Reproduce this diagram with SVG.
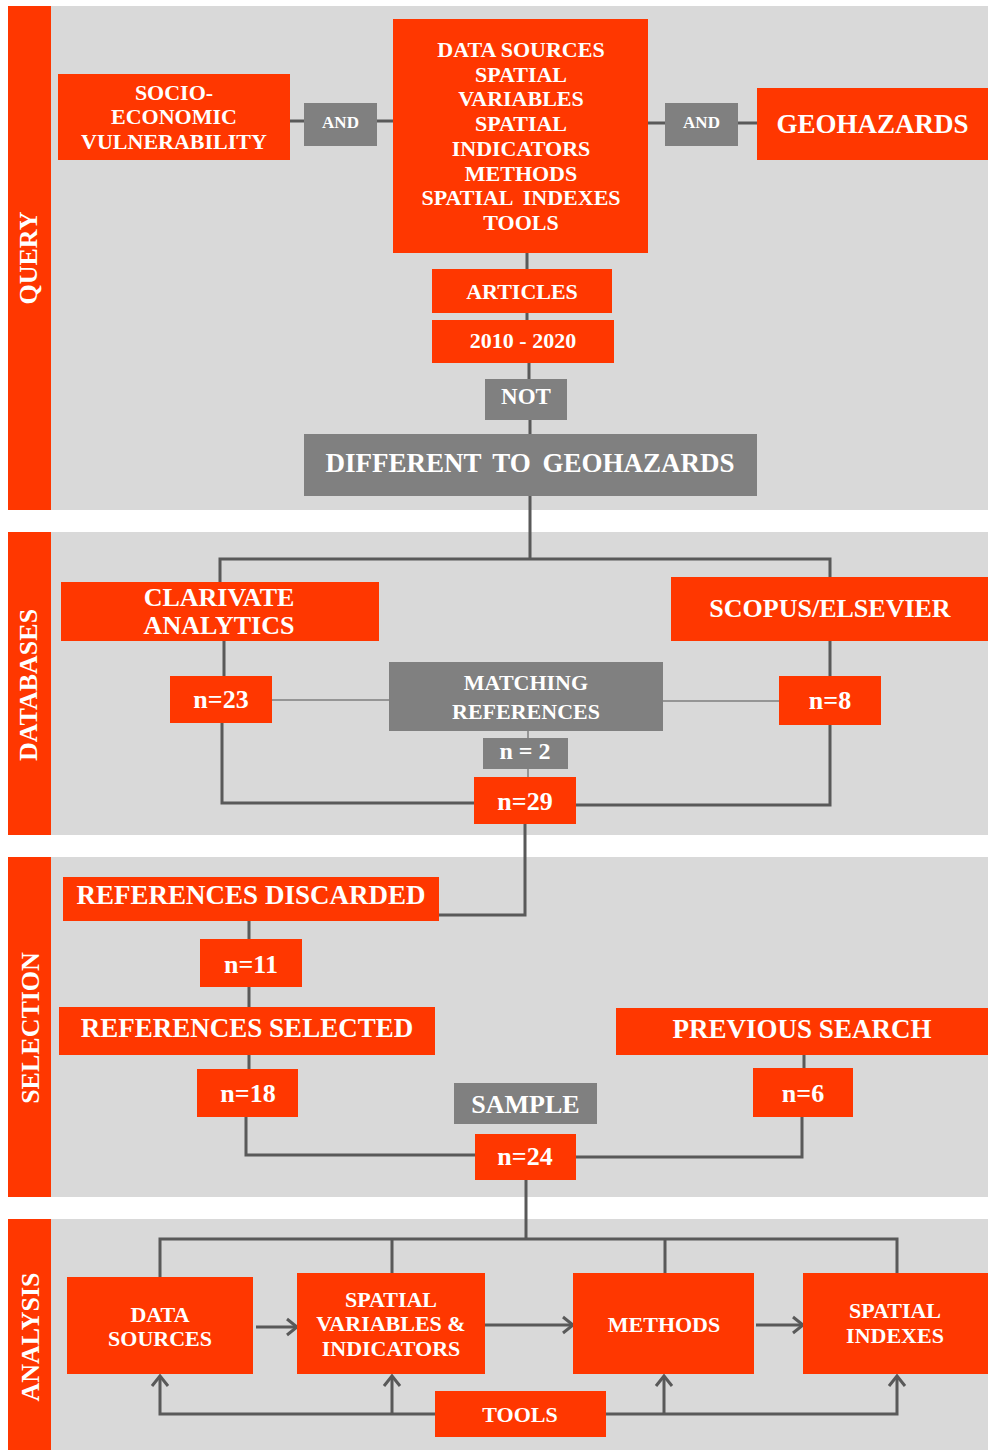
<svg xmlns="http://www.w3.org/2000/svg" width="988" height="1450" viewBox="0 0 988 1450" font-family="Liberation Serif, Times New Roman, Times, DejaVu Serif, serif">
<defs>
<style>
.panel{fill:#D9D9D9}
.o{fill:#FF3700}
.g{fill:#808080}
.tx{font-family:'Liberation Serif','Times New Roman',Times,'DejaVu Serif',serif;font-weight:700;fill:#FFFFFF;text-anchor:middle}
.s17{font-size:17px}
.s22{font-size:22px}
.s23{font-size:23px}
.s24{font-size:24px}
.s26{font-size:26px}
.s27{font-size:27px}
.c{fill:none;stroke:#595959;stroke-width:3}
.thin{fill:none;stroke:#7F7F7F;stroke-width:1.5}
.a{marker-end:url(#arr)}
</style>
<marker id="arr" markerWidth="18" markerHeight="20" refX="13" refY="9" orient="auto" markerUnits="userSpaceOnUse" overflow="visible">
<path d="M3,1 L13,9 L3,17" fill="none" stroke="#595959" stroke-width="3"/>
</marker>
</defs>

<g id="panels">
<rect class="panel" x="8" y="6" width="980" height="504"/>
<rect class="panel" x="8" y="532" width="980" height="303"/>
<rect class="panel" x="8" y="857" width="980" height="340"/>
<rect class="panel" x="8" y="1219" width="980" height="231"/>
</g>

<g id="side-query"><rect class="o" x="8" y="6" width="43" height="504"/><text class="tx s26" transform="translate(37,258) rotate(-90)">QUERY</text></g>
<g id="side-databases"><rect class="o" x="8" y="532" width="43" height="303"/><text class="tx s26" transform="translate(37,685) rotate(-90)">DATABASES</text></g>
<g id="side-selection"><rect class="o" x="8" y="857" width="43" height="340"/><text class="tx s26" transform="translate(39,1028) rotate(-90)">SELECTION</text></g>
<g id="side-analysis"><rect class="o" x="8" y="1219" width="43" height="231"/><text class="tx s26" transform="translate(39,1337) rotate(-90)">ANALYSIS</text></g>

<g id="connectors">
<path class="c" d="M290,121 H304 M377,121 H393 M648,123 H665 M738,123 H757"/>
<path class="c" d="M527,253 V269 M527,313 V320 M529,363 V379 M530,420 V434"/>
<path class="c" d="M530,496 V559 M220,582 V559 H830 V577"/>
<path class="c" d="M224,641 V676 M222,723 V803 H474 M576,805 H830 V725 M830,641 V676"/>
<path class="thin" d="M272,700 H389 M663,701 H779 M528,731 V738 M528,769 V777"/>
<path class="c" d="M525,824 V915 H439"/>
<path class="c" d="M249,921 V939 M249,987 V1007 M249,1055 V1069"/>
<path class="c" d="M246,1117 V1155 H475 M576,1157 H802 V1117 M804,1055 V1068"/>
<path class="c" d="M526,1180 V1239"/>
<path class="c" d="M160,1277 V1239 H897 V1273 M392,1239 V1273 M665,1239 V1273"/>
<path class="c a" d="M256,1327 H297"/>
<path class="c a" d="M485,1325 H573"/>
<path class="c a" d="M756,1325 H803"/>
<path class="c a" d="M435,1414 H160 V1376"/>
<path class="c a" d="M392,1414 V1376"/>
<path class="c a" d="M606,1414 H897 V1376"/>
<path class="c a" d="M664,1414 V1376"/>
</g>

<g id="socio"><rect class="o" x="58" y="74" width="232" height="86"/>
<text class="tx s22" x="174" y="100">SOCIO-</text><text class="tx s22" x="174" y="124">ECONOMIC</text><text class="tx s22" x="174" y="149">VULNERABILITY</text></g>
<g id="and1"><rect class="g" x="304" y="103" width="73" height="43"/><text class="tx s17" x="340.5" y="128">AND</text></g>
<g id="query-terms"><rect class="o" x="393" y="19" width="255" height="234"/>
<text class="tx s22" x="521" y="57">DATA SOURCES</text>
<text class="tx s22" x="521" y="81.7">SPATIAL</text>
<text class="tx s22" x="521" y="106.4">VARIABLES</text>
<text class="tx s22" x="521" y="131">SPATIAL</text>
<text class="tx s22" x="521" y="155.8">INDICATORS</text>
<text class="tx s22" x="521" y="180.5">METHODS</text>
<text class="tx s22" x="521" y="205.2" style="word-spacing:5px">SPATIAL INDEXES</text>
<text class="tx s22" x="521" y="230">TOOLS</text></g>
<g id="and2"><rect class="g" x="665" y="103" width="73" height="43"/><text class="tx s17" x="701.5" y="128">AND</text></g>
<g id="geohazards"><rect class="o" x="757" y="88" width="231" height="72"/><text class="tx s27" x="872.5" y="133">GEOHAZARDS</text></g>
<g id="articles"><rect class="o" x="432" y="269" width="180" height="44"/><text class="tx s22" x="522" y="299">ARTICLES</text></g>
<g id="years"><rect class="o" x="432" y="320" width="182" height="43"/><text class="tx s22" x="523" y="348">2010 - 2020</text></g>
<g id="not"><rect class="g" x="485" y="379" width="82" height="41"/><text class="tx s23" x="526" y="404">NOT</text></g>
<g id="different"><rect class="g" x="304" y="434" width="453" height="62"/><text class="tx s27" x="530" y="472" style="word-spacing:5px">DIFFERENT TO GEOHAZARDS</text></g>

<g id="clarivate"><rect class="o" x="61" y="582" width="318" height="59"/><text class="tx s26" x="219" y="606">CLARIVATE</text><text class="tx s26" x="219" y="634">ANALYTICS</text></g>
<g id="scopus"><rect class="o" x="671" y="577" width="317" height="64"/><text class="tx s26" x="830" y="617">SCOPUS/ELSEVIER</text></g>
<g id="n23"><rect class="o" x="170" y="676" width="102" height="47"/><text class="tx s26" x="221" y="708">n=23</text></g>
<g id="matching"><rect class="g" x="389" y="662" width="274" height="69"/><text class="tx s22" x="526" y="690">MATCHING</text><text class="tx s22" x="526" y="719">REFERENCES</text></g>
<g id="n8"><rect class="o" x="779" y="676" width="102" height="49"/><text class="tx s26" x="830" y="709">n=8</text></g>
<g id="n2"><rect class="g" x="483" y="738" width="85" height="31"/><text class="tx s24" x="525" y="759">n = 2</text></g>
<g id="n29"><rect class="o" x="474" y="777" width="102" height="47"/><text class="tx s26" x="525" y="810">n=29</text></g>

<g id="discarded"><rect class="o" x="63" y="877" width="376" height="44"/><text class="tx s27" x="251" y="904">REFERENCES DISCARDED</text></g>
<g id="n11"><rect class="o" x="200" y="939" width="102" height="48"/><text class="tx s26" x="251" y="973">n=11</text></g>
<g id="selected"><rect class="o" x="59" y="1007" width="376" height="48"/><text class="tx s27" x="247" y="1037">REFERENCES SELECTED</text></g>
<g id="n18"><rect class="o" x="197" y="1069" width="101" height="48"/><text class="tx s26" x="248" y="1102">n=18</text></g>
<g id="previous"><rect class="o" x="616" y="1008" width="372" height="47"/><text class="tx s27" x="802" y="1038">PREVIOUS SEARCH</text></g>
<g id="n6"><rect class="o" x="753" y="1068" width="100" height="49"/><text class="tx s26" x="803" y="1102">n=6</text></g>
<g id="sample"><rect class="g" x="454" y="1083" width="143" height="41"/><text class="tx s26" x="525.5" y="1113">SAMPLE</text></g>
<g id="n24"><rect class="o" x="475" y="1134" width="101" height="46"/><text class="tx s26" x="525" y="1165">n=24</text></g>

<g id="a-data"><rect class="o" x="67" y="1277" width="186" height="97"/><text class="tx s22" x="160" y="1322">DATA</text><text class="tx s22" x="160" y="1346">SOURCES</text></g>
<g id="a-variables"><rect class="o" x="297" y="1273" width="188" height="101"/><text class="tx s22" x="391" y="1307">SPATIAL</text><text class="tx s22" x="391" y="1331">VARIABLES &amp;</text><text class="tx s22" x="391" y="1356">INDICATORS</text></g>
<g id="a-methods"><rect class="o" x="573" y="1273" width="181" height="101"/><text class="tx s22" x="664" y="1332">METHODS</text></g>
<g id="a-indexes"><rect class="o" x="803" y="1273" width="185" height="101"/><text class="tx s22" x="895" y="1318">SPATIAL</text><text class="tx s22" x="895" y="1343">INDEXES</text></g>
<g id="a-tools"><rect class="o" x="435" y="1391" width="171" height="46"/><text class="tx s22" x="520" y="1422">TOOLS</text></g>
</svg>
